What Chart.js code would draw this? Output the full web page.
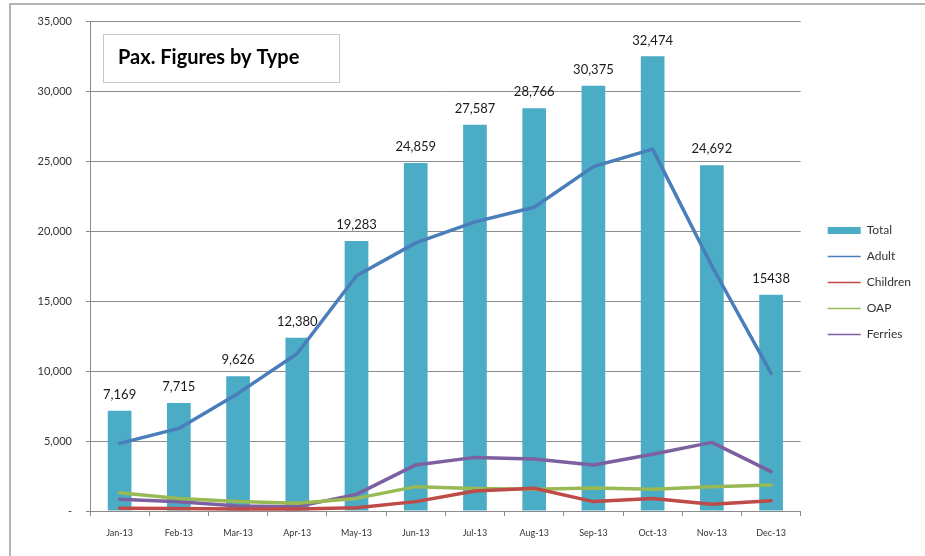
<!DOCTYPE html>
<html>
<head>
<meta charset="utf-8">
<script src="https://cdn.jsdelivr.net/npm/chart.js@4.4.1/dist/chart.umd.min.js"></script>
<style>
  html, body { margin: 0; padding: 0; background: #fff; }
  canvas { display: block; }
</style>
</head>
<body>
<canvas id="chart" width="925" height="556"></canvas>
<script>
const months = ['Jan-13', 'Feb-13', 'Mar-13', 'Apr-13', 'May-13', 'Jun-13', 'Jul-13', 'Aug-13', 'Sep-13', 'Oct-13', 'Nov-13', 'Dec-13'];
const total = [7169, 7715, 9626, 12380, 19283, 24859, 27587, 28766, 30375, 32474, 24692, 15438];
const totalLabels = ['7,169', '7,715', '9,626', '12,380', '19,283', '24,859', '27,587', '28,766', '30,375', '32,474', '24,692', '15438'];
const adult = [4830, 5900, 8400, 11250, 16800, 19150, 20650, 21700, 24600, 25850, 17500, 9830];
const children = [190, 170, 150, 150, 240, 670, 1430, 1620, 670, 900, 480, 740];
const oap = [1310, 900, 670, 550, 900, 1740, 1600, 1550, 1640, 1550, 1740, 1860];
const ferries = [840, 660, 360, 310, 1190, 3290, 3830, 3710, 3290, 4050, 4900, 2810];

const FONT = 'Lato, "Open Sans", sans-serif';
const lineSet = (label, data, color) => ({
  type: 'line',
  label,
  data,
  borderColor: color,
  backgroundColor: color,
  borderWidth: 3.5,
  pointRadius: 0,
  tension: 0,
  borderJoinStyle: 'round',
  borderCapStyle: 'round',
  order: 1,
});

// frame + title box
const decorPlugin = {
  id: 'decor',
  beforeDraw(chart) {
    const ctx = chart.ctx;
    ctx.save();
    ctx.fillStyle = '#fff';
    ctx.fillRect(0, 0, chart.width, chart.height);
    ctx.strokeStyle = '#b4b4b4';
    ctx.lineWidth = 2;
    ctx.beginPath();
    ctx.moveTo(10, chart.height);
    ctx.lineTo(10, 4);
    ctx.lineTo(chart.width, 4);
    ctx.stroke();
    ctx.restore();
  },
  afterDraw(chart) {
    const ctx = chart.ctx;
    ctx.save();
    ctx.fillStyle = '#fff';
    ctx.fillRect(103, 34, 236, 48);
    ctx.strokeStyle = '#c8c8c8';
    ctx.lineWidth = 1;
    ctx.strokeRect(103.5, 34.5, 236, 48);
    ctx.fillStyle = '#000';
    ctx.font = 'bold 20px ' + FONT;
    ctx.textBaseline = 'middle';
    ctx.fillText('Pax. Figures by Type', 118, 58);
    ctx.restore();
  },
};

// value labels over the bars
const barLabelPlugin = {
  id: 'barLabels',
  afterDatasetsDraw(chart) {
    const ctx = chart.ctx;
    const meta = chart.getDatasetMeta(0);
    ctx.save();
    ctx.fillStyle = '#1a1a1a';
    ctx.font = '13px ' + FONT;
    ctx.textAlign = 'center';
    ctx.textBaseline = 'middle';
    meta.data.forEach((bar, i) => {
      ctx.fillText(totalLabels[i], bar.x, bar.y - 16);
    });
    ctx.restore();
  },
};

const ctx = document.getElementById('chart').getContext('2d');
new Chart(ctx, {
  type: 'bar',
  data: {
    labels: months,
    datasets: [
      {
        label: 'Total',
        data: total,
        backgroundColor: '#4bacc6',
        barPercentage: 0.4,
        categoryPercentage: 1,
        order: 2,
      },
      lineSet('Adult', adult, '#4a7ebb'),
      lineSet('Children', children, '#be4b48'),
      lineSet('OAP', oap, '#98b954'),
      lineSet('Ferries', ferries, '#7d60a0'),
    ],
  },
  options: {
    responsive: false,
    animation: false,
    layout: { padding: { left: 12, top: 21, right: 4, bottom: 12 } },
    plugins: {
      tooltip: { enabled: false },
      legend: {
        position: 'right',
        labels: {
          color: '#333',
          font: { family: FONT, size: 12 },
          padding: 14,
          usePointStyle: true,
          pointStyleWidth: 33,
          boxHeight: 7,
          generateLabels: (chart) =>
            chart.data.datasets.map((ds, i) => ({
              text: ds.label,
              datasetIndex: i,
              fillStyle: ds.backgroundColor,
              strokeStyle: ds.type === 'line' ? ds.borderColor : ds.backgroundColor,
              lineWidth: ds.type === 'line' ? 1.5 : 0,
              pointStyle: ds.type === 'line' ? 'line' : 'rect',
              fontColor: '#333',
            })),
        },
      },
    },
    scales: {
      x: {
        grid: {
          drawOnChartArea: false,
          offset: true,
          tickLength: 5,
          color: '#8c8c8c',
        },
        border: { color: '#8c8c8c' },
        ticks: {
          color: '#333',
          font: { family: FONT, size: 9 },
          padding: 12,
          maxRotation: 0,
        },
        afterFit: (scale) => { scale.height = 33; },
      },
      y: {
        min: 0,
        max: 35000,
        grid: { color: '#8c8c8c', tickLength: 4 },
        border: { color: '#8c8c8c' },
        ticks: {
          stepSize: 5000,
          color: '#333',
          font: { family: FONT, size: 11 },
          padding: 14,
          callback: (v) => (v === 0 ? '-' : v.toLocaleString('en-US')),
        },
        afterFit: (scale) => { scale.width = 78; },
      },
      spacer: {
        position: 'right',
        display: true,
        grid: { display: false },
        border: { display: false },
        ticks: { display: false },
        afterFit: (scale) => { scale.width = 13; },
      },
    },
  },
  plugins: [decorPlugin, barLabelPlugin],
});
</script>
</body>
</html>
